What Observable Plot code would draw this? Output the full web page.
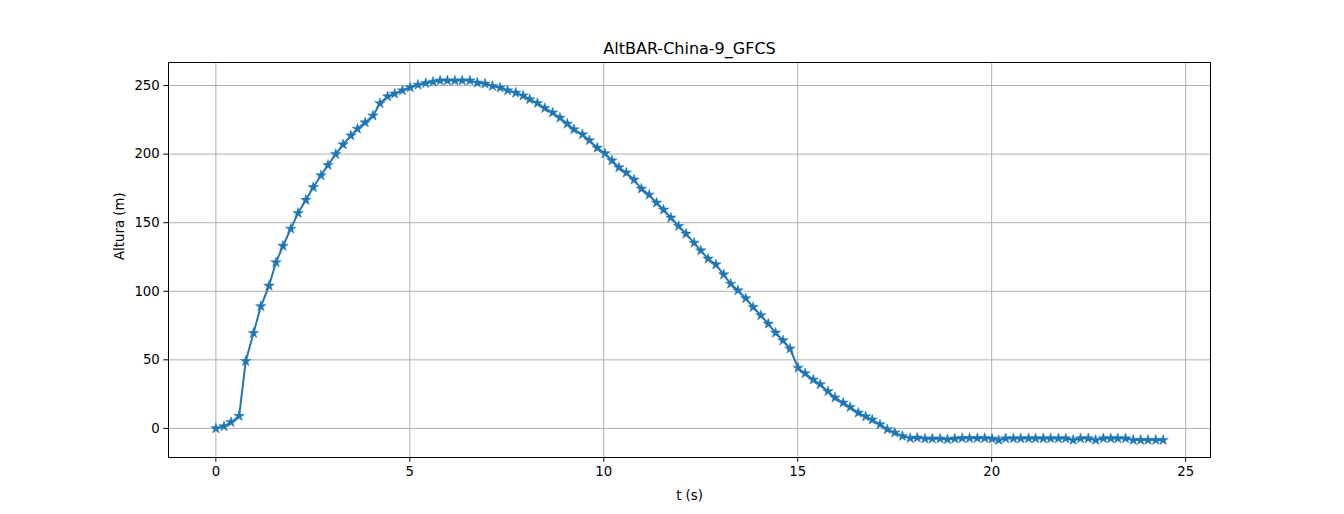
<!DOCTYPE html>
<html>
<head>
<meta charset="utf-8">
<script src="https://cdn.jsdelivr.net/npm/d3@7"></script>
<script src="https://cdn.jsdelivr.net/npm/@observablehq/plot@0.6"></script>
<style>
  html, body { margin: 0; padding: 0; background: #fff; }
  #chart svg { display: block; }
</style>
</head>
<body>
<div id="chart"></div>
<script>
const title = "AltBAR-China-9_GFCS";
const xLabel = "t (s)";
const yLabel = "Altura (m)";
const xTicks = [0, 5, 10, 15, 20, 25];
const yTicks = [0, 50, 100, 150, 200, 250];

const tValues = [
  0, 0.21, 0.39, 0.6, 0.77, 0.97, 1.16, 1.37, 1.55, 1.73,
  1.93, 2.12, 2.32, 2.51, 2.71, 2.89, 3.09, 3.28, 3.48, 3.65,
  3.85, 4.05, 4.23, 4.43, 4.61, 4.81, 5.01, 5.21, 5.41, 5.6,
  5.78, 5.97, 6.16, 6.35, 6.55, 6.74, 6.94, 7.13, 7.33, 7.52,
  7.73, 7.92, 8.09, 8.29, 8.48, 8.68, 8.87, 9.06, 9.23, 9.45,
  9.63, 9.83, 10.03, 10.21, 10.39, 10.58, 10.78, 10.97, 11.17, 11.36,
  11.54, 11.73, 11.93, 12.12, 12.33, 12.5, 12.69, 12.89, 13.09, 13.27,
  13.46, 13.66, 13.85, 14.05, 14.24, 14.43, 14.62, 14.8, 15.01, 15.19,
  15.4, 15.58, 15.78, 15.96, 16.17, 16.35, 16.56, 16.75, 16.92, 17.12,
  17.31, 17.5, 17.7, 17.9, 18.08, 18.28, 18.47, 18.67, 18.86, 19.05,
  19.24, 19.43, 19.63, 19.82, 20.01, 20.18, 20.36, 20.56, 20.75, 20.95,
  21.13, 21.33, 21.52, 21.72, 21.91, 22.1, 22.29, 22.49, 22.68, 22.88,
  23.07, 23.25, 23.45, 23.65, 23.84, 24.03, 24.23, 24.42
];

const altValues = [
  0, 1.5, 4.5, 9, 49, 69.5, 89, 104, 121, 133,
  145.5, 157, 166.5, 175.8, 184.4, 192, 200, 207, 213.5, 218.4,
  223, 228, 237, 242, 244, 246.4, 248.6, 250.5, 251.7, 252.7,
  253.6, 253.6, 253.6, 253.6, 253.6, 252, 251.3, 249.6, 248.4, 246.4,
  244.7, 242.6, 239.9, 237.2, 233.5, 230.2, 226.5, 222.1, 218, 214.3,
  210, 204.6, 200.5, 195.3, 190.2, 186.4, 181.3, 174.7, 170.3, 164.5,
  159.4, 153.6, 147.5, 141.9, 135.3, 129.7, 123.7, 119.5, 112.2, 105.4,
  100.6, 94.8, 88.4, 82.4, 76.3, 69.7, 64.1, 58.1, 44.1, 40.1,
  35.5, 32.1, 27, 22.4, 18.7, 15.5, 11.4, 8.7, 6.3, 2.9,
  -0.7, -3.1, -5.6, -7.1, -6.8, -7.5, -7.5, -7.5, -8, -7.5,
  -7.1, -7.1, -7.1, -7.1, -7.5, -8.5, -7.3, -7.3, -7.3, -7.3,
  -7.3, -7.3, -7.3, -7.3, -7.3, -8.5, -7.3, -7.3, -8.5, -7.3,
  -7.3, -7.3, -7.3, -8.5, -8.5, -8.5, -8.5, -8.5
];

const data = tValues.map((t, i) => ({t, alt: altValues[i]}));

const W = 1344, H = 514;
const mL = 168, mR = 134, mT = 62, mB = 57;
const font = "DejaVu Sans, sans-serif";
const blue = "#1f77b4";

const chart = Plot.plot({
  width: W,
  height: H,
  marginLeft: mL,
  marginRight: mR,
  marginTop: mT,
  marginBottom: mB,
  style: {fontFamily: font, fontSize: "13.3px", color: "#000", background: "#fff", overflow: "visible"},
  x: {domain: [-1.221, 25.641], ticks: xTicks, tickFormat: d => String(d), label: null},
  y: {domain: [-21.2, 266.8], ticks: yTicks, tickFormat: d => String(d), label: null},
  marks: [
    Plot.gridX(xTicks, {stroke: "#b0b0b0", strokeOpacity: 1, strokeWidth: 1}),
    Plot.gridY(yTicks, {stroke: "#b0b0b0", strokeOpacity: 1, strokeWidth: 1}),
    Plot.line(data, {x: "t", y: "alt", stroke: blue, strokeWidth: 2}),
    Plot.dot(data, {x: "t", y: "alt", symbol: "star", r: 3.3, fill: blue, stroke: blue, strokeWidth: 0.5}),
    Plot.frame({stroke: "#000", strokeWidth: 1}),
    Plot.axisX(xTicks, {tickSize: 4.7, tickPadding: 4, fontSize: 13.3, stroke: "#000", tickFormat: d => String(d), label: null}),
    Plot.axisY(yTicks, {tickSize: 4.7, tickPadding: 4, fontSize: 13.3, stroke: "#000", tickFormat: d => String(d), label: null}),
    Plot.text([title], {frameAnchor: "top", dy: -9, text: d => d, fontSize: 16, fill: "#000", textAnchor: "middle", lineAnchor: "bottom"}),
    Plot.text([xLabel], {frameAnchor: "bottom", dy: 42, text: d => d, fontSize: 13.3, fill: "#000", lineAnchor: "bottom"}),
    Plot.text([yLabel], {frameAnchor: "left", dx: -45, text: d => d, fontSize: 13.3, fill: "#000", rotate: -90, lineAnchor: "bottom"})
  ]
});
document.getElementById("chart").appendChild(chart);
</script>
</body>
</html>
